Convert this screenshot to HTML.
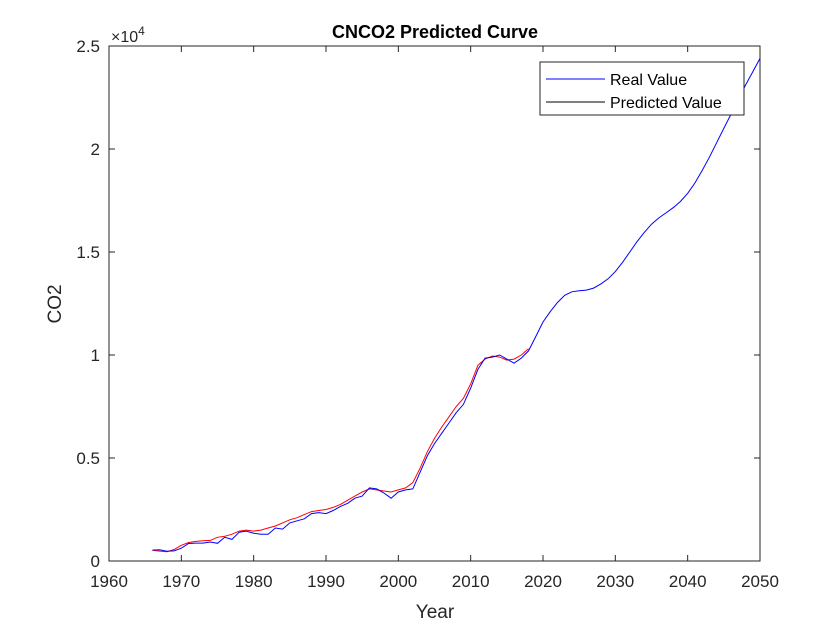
<!DOCTYPE html>
<html><head><meta charset="utf-8"><style>
body{margin:0;background:#fff;}
svg{display:block;font-family:"Liberation Sans",Arial,sans-serif;}
</style></head><body>
<svg id="chart" width="840" height="630">
<rect x="0" y="0" width="840" height="630" fill="#fff"/>
<rect x="109" y="46" width="651" height="515" fill="#fff" stroke="#262626" stroke-width="1"/>
<g id="axes"></g>
<g id="series"></g>
<text x="435" y="38" text-anchor="middle" font-size="18" font-weight="bold" fill="#000">CNCO2 Predicted Curve</text>
<text x="435" y="618" text-anchor="middle" font-size="19" fill="#262626">Year</text>
<text transform="translate(61,304) rotate(-90)" text-anchor="middle" font-size="19" fill="#262626">CO2</text>
<text x="111" y="42" font-size="16" fill="#262626">×10<tspan font-size="12" dy="-7">4</tspan></text>
<g>
<rect x="540" y="62" width="204" height="53" fill="#fff" stroke="#262626" stroke-width="1"/>
<line x1="546" y1="79" x2="605" y2="79" stroke="#0000ff" stroke-width="1"/>
<text x="610" y="85" font-size="16" fill="#000">Real Value</text>
<line x1="546" y1="102" x2="605" y2="102" stroke="#000" stroke-width="1"/>
<text x="610" y="108" font-size="16" fill="#000">Predicted Value</text>
</g>
</svg>
<script>
const xTicks = [1960,1970,1980,1990,2000,2010,2020,2030,2040,2050];
const yTicks = [0,5000,10000,15000,20000,25000];
const yTickLabels = ["0","0.5","1","1.5","2","2.5"];
const realYears = [1966,1967,1968,1969,1970,1971,1972,1973,1974,1975,1976,1977,1978,1979,1980,1981,1982,1983,1984,1985,1986,1987,1988,1989,1990,1991,1992,1993,1994,1995,1996,1997,1998,1999,2000,2001,2002,2003,2004,2005,2006,2007,2008,2009,2010,2011,2012,2013,2014,2015,2016,2017,2018,2019,2020,2021,2022,2023,2024,2025,2026,2027,2028,2029,2030,2031,2032,2033,2034,2035,2036,2037,2038,2039,2040,2041,2042,2043,2044,2045,2046,2047,2048,2049,2050];
const realValues = [530,550,470,490,620,850,870,870,920,860,1150,1050,1400,1450,1350,1300,1300,1600,1550,1850,1950,2050,2300,2350,2300,2450,2650,2800,3050,3150,3550,3500,3300,3050,3350,3450,3500,4300,5100,5700,6200,6700,7200,7600,8400,9300,9850,9900,10000,9800,9600,9850,10200,10900,11600,12100,12550,12900,13070,13120,13150,13250,13450,13700,14050,14500,15000,15500,15950,16350,16650,16900,17150,17450,17850,18350,18950,19600,20300,21000,21700,22400,23100,23750,24400];
const predYears = [1966,1967,1968,1969,1970,1971,1972,1973,1974,1975,1976,1977,1978,1979,1980,1981,1982,1983,1984,1985,1986,1987,1988,1989,1990,1991,1992,1993,1994,1995,1996,1997,1998,1999,2000,2001,2002,2003,2004,2005,2006,2007,2008,2009,2010,2011,2012,2013,2014,2015,2016,2017,2018];
const predValues = [520,480,450,560,760,900,950,980,1000,1150,1200,1300,1450,1500,1450,1500,1600,1700,1850,2000,2100,2250,2400,2450,2500,2600,2750,2950,3150,3350,3500,3450,3400,3350,3450,3550,3800,4500,5300,5950,6500,7000,7500,7900,8600,9500,9800,9950,9900,9750,9800,10000,10300];

const X0=109,X1=760,Y0=561,Y1=46;
const xs=v=>X0+(v-1960)/90*(X1-X0);
const ys=v=>Y0-(v/25000)*(Y0-Y1);
const NS="http://www.w3.org/2000/svg";
const axes=document.getElementById('axes');
const series=document.getElementById('series');
function mk(tag,attrs,parent){const e=document.createElementNS(NS,tag);for(const k in attrs)e.setAttribute(k,attrs[k]);parent.appendChild(e);return e;}
xTicks.forEach(t=>{
  const x=xs(t);
  const a=mk('line',{x1:x,x2:x,y1:Y0,y2:Y0-6,stroke:'#262626'},axes);
  
  
  const b=mk('line',{x1:x,x2:x,y1:Y1,y2:Y1+6,stroke:'#262626'},axes);
  
  
  const l=mk('text',{x:x,y:587,'text-anchor':'middle','font-size':17,fill:'#262626'},axes);
  l.textContent=t;
  
  
});
yTicks.forEach((t,i)=>{
  const y=ys(t);
  const a=mk('line',{x1:X0,x2:X0+6,y1:y,y2:y,stroke:'#262626'},axes);
  
  
  const b=mk('line',{x1:X1,x2:X1-6,y1:y,y2:y,stroke:'#262626'},axes);
  
  
  const l=mk('text',{x:100,y:y+6,'text-anchor':'end','font-size':17,fill:'#262626'},axes);
  l.textContent=yTickLabels[i];
  
  
});
function path(years,vals){return years.map((yr,i)=>(i?'L':'M')+xs(yr).toFixed(1)+','+ys(vals[i]).toFixed(1)).join(' ');}
const pr=mk('path',{d:path(predYears,predValues),fill:'none',stroke:'#ff0000','stroke-width':1},series);


const rl=mk('path',{d:path(realYears,realValues),fill:'none',stroke:'#0000ff','stroke-width':1},series);


</script>
</body></html>
